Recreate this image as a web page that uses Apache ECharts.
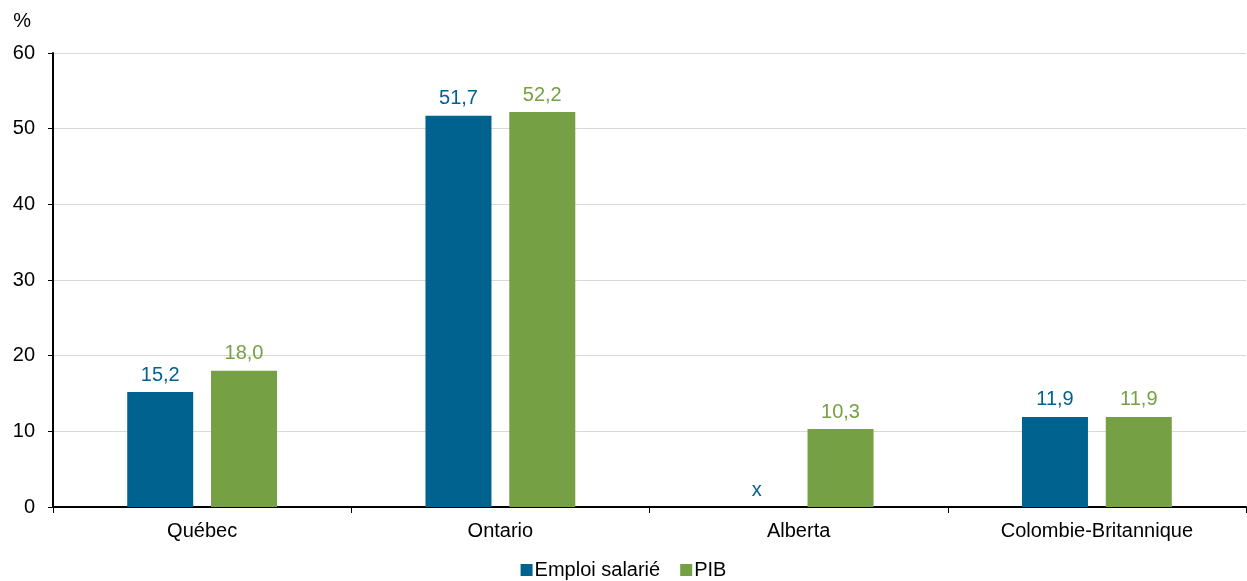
<!DOCTYPE html>
<html><head><meta charset="utf-8">
<script src="https://cdn.jsdelivr.net/npm/echarts@6/dist/echarts.min.js"></script>
<style>html,body{margin:0;padding:0;background:#fff}#c{width:1247px;height:581px}</style>
</head><body><div id="c"></div>
<script>
const categories = ['Québec', 'Ontario', 'Alberta', 'Colombie-Britannique'];
const emploi = [15.2, 51.7, null, 11.9];
const pib = [18.0, 52.2, 10.3, 11.9];
const seriesNames = ['Emploi salarié', 'PIB'];
const yTicks = {min: 0, max: 60, interval: 10};

const BLUE = '#00628F', GREEN = '#76A044';
const font = 'Liberation Sans, Arial, sans-serif';
const FS = 20;
const fmt = v => (v == null ? 'x' : v.toFixed(1).replace('.', ','));

const chart = echarts.init(document.getElementById('c'));
chart.setOption({
  animation: false,
  textStyle: {fontFamily: font},
  grid: {left: 53, right: 1, top: 53, bottom: 74, containLabel: false},
  legend: {
    top: 555, left: 'center', icon: 'rect', itemWidth: 12, itemHeight: 12, itemGap: 20,
    textStyle: {fontSize: FS, color: '#000', fontFamily: font, padding: [0,0,0,-3]},
    data: seriesNames
  },
  xAxis: {
    type: 'category', data: categories,
    axisLine: {lineStyle: {color: '#000', width: 2}},
    axisTick: {show: true, length: 6, lineStyle: {color: '#000'}},
    axisLabel: {fontSize: FS, color: '#000', margin: 14, fontFamily: font}
  },
  yAxis: {
    type: 'value', min: yTicks.min, max: yTicks.max, interval: yTicks.interval,
    name: '%', nameLocation: 'end', nameGap: 22,
    nameTextStyle: {fontSize: FS, color: '#000', align: 'right', padding: [0, 22, 0, 0], fontFamily: font},
    axisLine: {show: true, lineStyle: {color: '#000', width: 2}},
    axisTick: {show: true, length: 5, lineStyle: {color: '#000'}},
    axisLabel: {fontSize: FS, color: '#000', margin: 18, fontFamily: font},
    splitLine: {lineStyle: {color: '#D9D9D9', width: 1}}
  },
  series: [
    {
      name: seriesNames[0], type: 'bar', barWidth: 66, barGap: '27%',
      itemStyle: {color: BLUE},
      data: emploi.map(v => v == null ? {value: 0, isX: true} : v),
      label: {show: true, position: 'top', distance: 7, color: BLUE, fontSize: FS, fontFamily: font,
        formatter: p => (p.data && p.data.isX) ? 'x' : fmt(p.value)}
    },
    {
      name: seriesNames[1], type: 'bar', barWidth: 66,
      itemStyle: {color: GREEN},
      data: pib,
      label: {show: true, position: 'top', distance: 7, color: GREEN, fontSize: FS, fontFamily: font,
        formatter: p => fmt(p.value)}
    }
  ]
});
</script></body></html>
